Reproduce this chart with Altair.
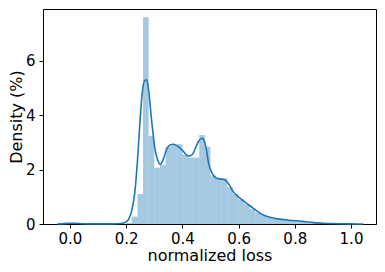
import altair as alt
import pandas as pd

# Histogram bins (left edge) and densities
bin_left = [0.00, 0.02, 0.04, 0.06, 0.08, 0.10, 0.12, 0.14, 0.16, 0.18,
            0.20, 0.22, 0.24, 0.26, 0.28, 0.30, 0.32, 0.34, 0.36, 0.38,
            0.40, 0.42, 0.44, 0.46, 0.48, 0.50, 0.52, 0.54, 0.56, 0.58,
            0.60, 0.62, 0.64, 0.66, 0.68, 0.70, 0.72, 0.74, 0.76, 0.78,
            0.80, 0.82, 0.84, 0.86, 0.88, 0.90, 0.92, 0.94, 0.96, 0.98]
bin_density = [0.04, 0.01, 0, 0, 0, 0, 0, 0, 0, 0,
               0.04, 0.27, 1.1, 7.6, 3.24, 2.07, 2.17, 2.84, 2.93, 2.93,
               2.56, 2.44, 2.44, 3.27, 2.84, 1.78, 1.68, 1.68, 1.35, 1.1,
               0.9, 0.72, 0.55, 0.42, 0.32, 0.24, 0.19, 0.16, 0.14, 0.12,
               0.10, 0.08, 0.05, 0.035, 0.02, 0.015, 0.01, 0.01, 0.01, 0.01]
bin_width = 0.02

# KDE curve
kde_x = [-0.045, -0.02, 0.0, 0.02, 0.05, 0.10, 0.15, 0.18, 0.20, 0.21, 0.22,
         0.231, 0.24, 0.249, 0.258, 0.266, 0.273, 0.28, 0.291, 0.302, 0.312,
         0.321, 0.333, 0.344, 0.356, 0.368, 0.38, 0.391, 0.405, 0.421, 0.435,
         0.447, 0.458, 0.466, 0.472, 0.478, 0.485, 0.494, 0.504, 0.513, 0.522,
         0.537, 0.552, 0.566, 0.581, 0.605, 0.629, 0.66, 0.688, 0.72, 0.747,
         0.78, 0.807, 0.84, 0.866, 0.9, 0.925, 0.96, 1.0, 1.044]
kde_y = [0.0, 0.015, 0.03, 0.025, 0.01, 0.003, 0.005, 0.02, 0.08, 0.2, 0.5,
         1.19, 2.3, 3.76, 4.9, 5.27, 5.3, 4.9, 3.76, 2.78, 2.35,
         2.19, 2.4, 2.75, 2.9, 2.93, 2.88, 2.8, 2.65, 2.5, 2.55,
         2.8, 3.05, 3.13, 3.15, 3.05, 2.75, 2.2, 1.9, 1.75, 1.68,
         1.65, 1.62, 1.45, 1.19, 0.95, 0.76, 0.52, 0.33, 0.23, 0.18,
         0.14, 0.12, 0.08, 0.05, 0.03, 0.02, 0.01, 0.005, 0.0]

x_ticks = [0.0, 0.2, 0.4, 0.6, 0.8, 1.0]
y_ticks = [0, 2, 4, 6]

hist = pd.DataFrame({"left": bin_left, "density": bin_density})
hist["right"] = hist["left"] + bin_width
kde = pd.DataFrame({"x": kde_x, "y": kde_y})

FONT = "DejaVu Sans"

xscale = alt.Scale(domain=[-0.096, 1.089], nice=False, zero=False)
yscale = alt.Scale(domain=[0, 7.9], nice=False)

xaxis = alt.Axis(values=x_ticks, format=".1f", title="normalized loss",
                 grid=False, tickSize=4, labelPadding=3, titlePadding=1)
yaxis = alt.Axis(values=y_ticks, format="d", title="Density (%)",
                 grid=False, tickSize=4, labelPadding=4, titlePadding=1)

bars = alt.Chart(hist).mark_rect(color="#1f77b4", opacity=0.4).encode(
    x=alt.X("left:Q", scale=xscale, axis=xaxis),
    x2="right:Q",
    y=alt.Y("density:Q", scale=yscale, axis=yaxis),
    y2=alt.datum(0),
)

line = alt.Chart(kde).mark_line(color="#1f77b4", strokeWidth=1.6,
                                interpolate="monotone").encode(
    x=alt.X("x:Q", scale=xscale),
    y=alt.Y("y:Q", scale=yscale),
)

chart = alt.layer(bars, line).properties(
    width=333, height=215,
    autosize=alt.AutoSizeParams(type="none"),
    padding={"left": 35, "top": 1, "right": 1, "bottom": 40},
).configure_view(
    stroke="black", strokeWidth=1
).configure_axis(
    domainColor="black", tickColor="black", labelColor="black",
    titleColor="black", labelFont=FONT, titleFont=FONT,
    labelFontSize=15, titleFontSize=16, titleFontWeight="normal",
    domainWidth=1, tickWidth=1,
)

chart.save("out.html", embed_options={"renderer": "svg", "actions": False})
